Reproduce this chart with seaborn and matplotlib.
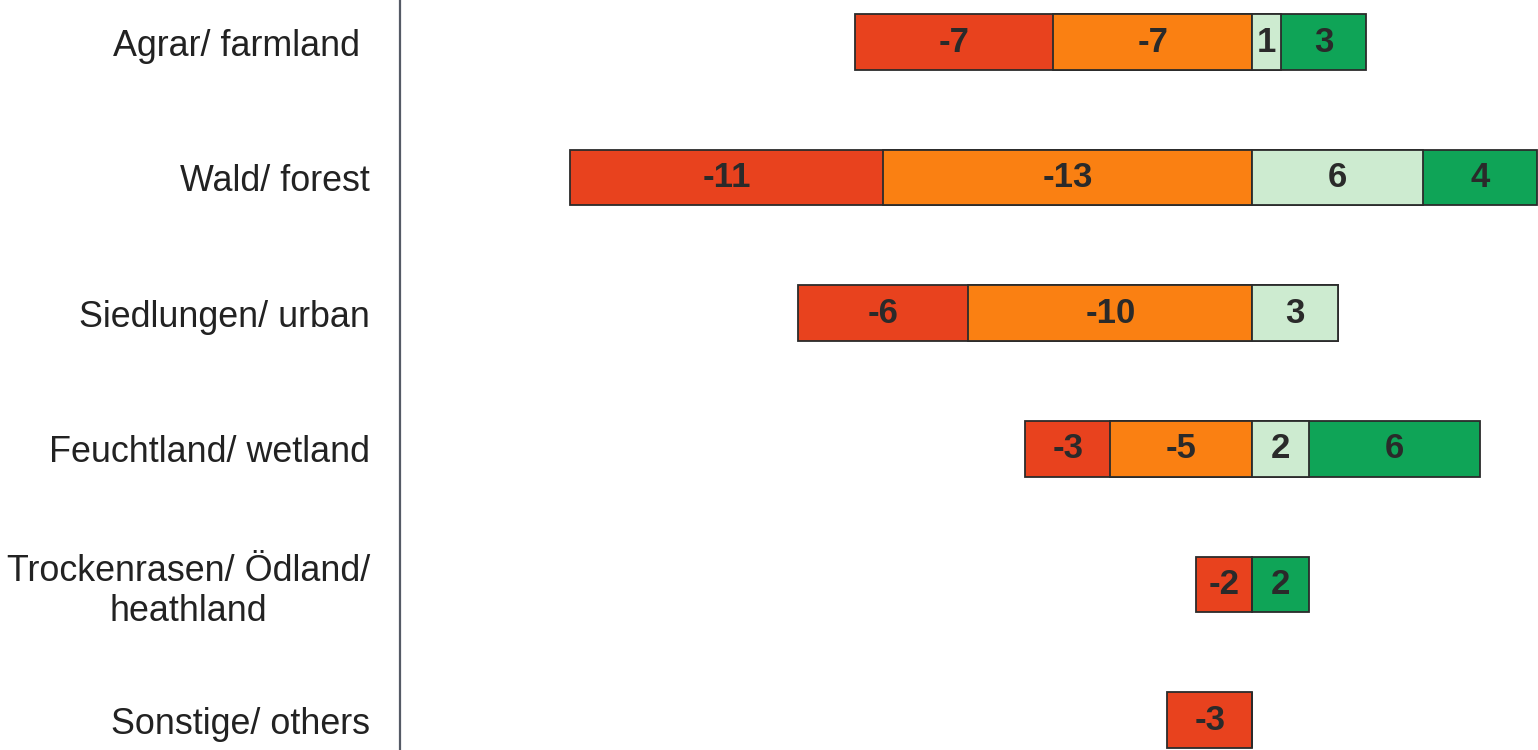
import matplotlib
matplotlib.use("Agg")
import matplotlib.pyplot as plt
import seaborn as sns
import numpy as np

categories = ["Agrar/ farmland ", "Wald/ forest", "Siedlungen/ urban",
              "Feuchtland/ wetland", "Trockenrasen/ Ödland/\nheathland", "Sonstige/ others"]
strong_neg = [-7, -11, -6, -3, -2, -3]   # red
neg = [-7, -13, -10, -5, 0, 0]           # orange
pos = [1, 6, 3, 2, 0, 0]                 # light green
strong_pos = [3, 4, 0, 6, 2, 0]          # dark green

c_red = "#E8421E"
c_orange = "#FA8012"
c_lgreen = "#CDEBD0"
c_dgreen = "#0FA457"

sns.set_theme(style="white")
plt.rcParams["font.family"] = ["Liberation Sans", "DejaVu Sans"]

fig = plt.figure(figsize=(15.38, 7.5), dpi=100)
ax = fig.add_axes([0.26, 0.0, 0.74, 1.0])

sn = np.array(strong_neg); n = np.array(neg); p = np.array(pos); sp = np.array(strong_pos)
bw = 0.41
common = dict(y=categories, orient="h", width=bw, saturation=1,
              edgecolor="#2b2b2b", linewidth=1.3, ax=ax)
sns.barplot(x=sn + n, color=c_red, **common)
sns.barplot(x=n, color=c_orange, **common)
sns.barplot(x=p + sp, color=c_dgreen, **common)
sns.barplot(x=p, color=c_lgreen, **common)

# labels
for i in range(len(categories)):
    segs = [(n[i], n[i] + sn[i], sn[i]), (0, n[i], n[i]), (0, p[i], p[i]), (p[i], p[i] + sp[i], sp[i])]
    for a, b, v in segs:
        if v != 0:
            ax.text((a + b) / 2, i, f"{v}", ha="center", va="center",
                    fontsize=25, fontweight="bold", color="#2a2a2a")

ax.set_xlim(-30, 10.05)
ax.set_ylim(5.22, -0.31)
ax.set_xlabel("")
ax.set_ylabel("")
ax.set_xticks([])
ax.tick_params(axis="y", length=0, pad=21.5, labelsize=25.8, labelcolor="#222222")
for lbl in ax.get_yticklabels():
    lbl.set_multialignment("center")
for s in ["top", "right", "bottom"]:
    ax.spines[s].set_visible(False)
ax.spines["left"].set_color("#555a66")
ax.spines["left"].set_linewidth(1.6)

fig.savefig("out.png", dpi=100)
